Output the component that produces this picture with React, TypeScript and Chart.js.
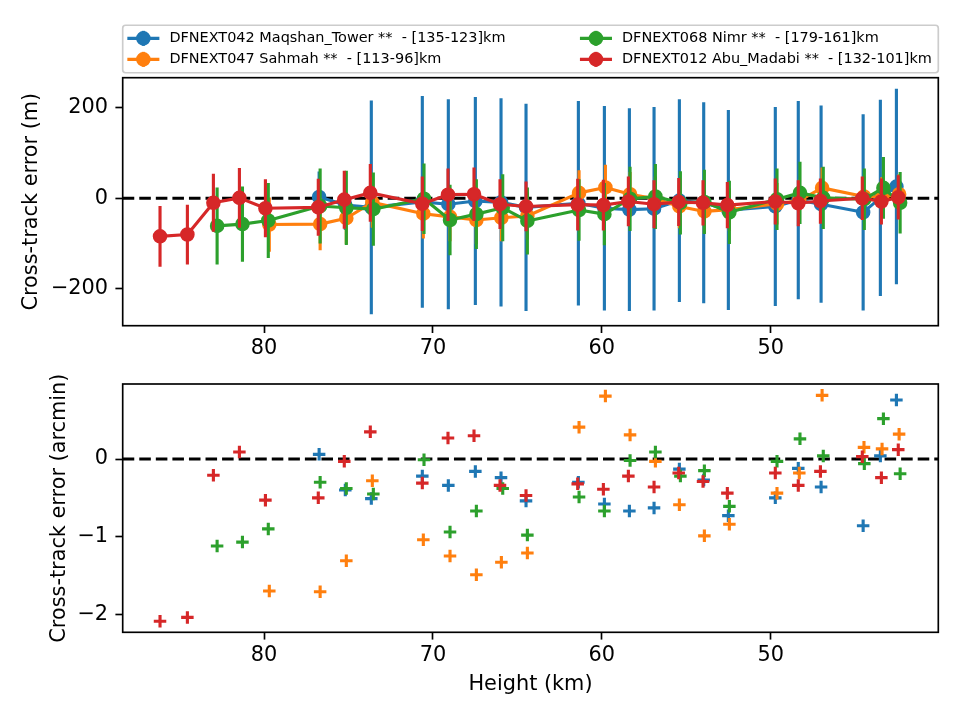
import React, { useEffect, useRef } from 'react';
import { Chart, registerables } from 'chart.js';

Chart.register(...registerables);

// 150 dpi figure: points -> pixels
const PT = 150 / 72;
const FONT_FAMILY = "'DejaVu Sans', 'Liberation Sans', sans-serif";
const FONT_SIZE = 10 * PT;
const LEGEND_FONT_SIZE = 6.94 * PT;

const COLORS = ['#1f77b4', '#ff7f0e', '#2ca02c', '#d62728'];
const STATION_LABELS = [
  'DFNEXT042 Maqshan_Tower **  - [135-123]km',
  'DFNEXT047 Sahmah **  - [113-96]km',
  'DFNEXT068 Nimr **  - [179-161]km',
  'DFNEXT012 Abu_Madabi **  - [132-101]km',
];

// DFNEXT042 Maqshan_Tower
const maqshanHeight = [76.74, 75.19, 73.65, 70.63, 69.09, 67.49, 65.97, 64.49, 61.39, 59.85, 58.37, 56.91, 55.41, 53.97, 52.51, 49.73, 48.37, 47.02, 44.53, 43.51, 42.56];
const maqshanErrM = [3, -15, -20, -8, -13, -6, -9, -20, -11, -22, -25, -23, -5, -10, -26, -18, -4, -13, -31, 1, 26];
const maqshanSigmaM = [56, 55, 236, 234, 232, 230, 230, 229, 226, 226, 224, 225, 224, 222, 221, 220, 219, 218, 217, 217, 216];
const maqshanErrArcmin = [0.06, -0.4, -0.51, -0.22, -0.34, -0.16, -0.24, -0.54, -0.3, -0.58, -0.67, -0.63, -0.13, -0.27, -0.73, -0.5, -0.12, -0.36, -0.86, 0.04, 0.76];

// DFNEXT047 Sahmah
const sahmahHeight = [79.69, 76.68, 75.13, 73.59, 70.57, 68.99, 67.43, 65.95, 64.41, 61.35, 59.79, 58.33, 56.83, 55.41, 53.93, 52.45, 49.63, 48.31, 46.96, 44.48, 43.41, 42.4];
const sahmahErrM = [-58, -57, -44, -9, -34, -41, -48, -43, -39, 12, 24, 9, -1, -18, -29, -25, -12, -5, 23, 4, 3, 9];
const sahmahSigmaM = [60, 58, 57, 56, 55, 54, 53, 52, 52, 50, 50, 49, 49, 48, 48, 47, 46, 46, 45, 44, 44, 44];
const sahmahErrArcmin = [-1.7, -1.71, -1.31, -0.28, -1.04, -1.25, -1.49, -1.33, -1.21, 0.41, 0.81, 0.31, -0.03, -0.59, -0.99, -0.84, -0.44, -0.18, 0.82, 0.15, 0.13, 0.32];

// DFNEXT068 Nimr
const nimrHeight = [82.78, 81.28, 79.75, 76.68, 75.13, 73.53, 70.53, 68.99, 67.43, 65.87, 64.41, 61.35, 59.85, 58.33, 56.83, 55.35, 53.93, 52.45, 49.63, 48.27, 46.89, 44.46, 43.33, 42.34];
const nimrErrM = [-61, -57, -49, -17, -21, -24, -1, -48, -35, -21, -50, -26, -35, -1, 4, -10, -8, -31, -2, 12, 1, -2, 23, -10];
const nimrSigmaM = [85, 83, 83, 83, 82, 81, 78, 78, 77, 74, 74, 68, 69, 71, 72, 70, 71, 70, 68, 69, 69, 68, 68, 68];
const nimrErrArcmin = [-1.12, -1.07, -0.9, -0.3, -0.38, -0.45, -0.01, -0.94, -0.67, -0.38, -0.98, -0.49, -0.67, -0.02, 0.09, -0.22, -0.15, -0.61, -0.03, 0.26, 0.04, -0.06, 0.52, -0.19];

// DFNEXT012 Abu_Madabi
const abuMadabiHeight = [86.16, 84.54, 83.0, 81.46, 79.92, 76.79, 75.25, 73.71, 70.63, 69.11, 67.57, 66.03, 64.49, 61.43, 59.91, 58.43, 56.91, 55.45, 54.01, 52.57, 49.73, 48.37, 47.06, 44.58, 43.45, 42.45];
const abuMadabiErrM = [-84, -80, -10, 1, -22, -20, -3, 12, -12, 8, 9, -13, -18, -14, -15, -7, -13, -8, -10, -15, -7, -11, -6, 0, -7, 2];
const abuMadabiSigmaM = [67, 66, 64, 66, 64, 63, 64, 64, 60, 58, 59, 55, 55, 57, 56, 55, 53, 53, 50, 51, 51, 51, 50, 48, 51, 49];
const abuMadabiErrArcmin = [-2.09, -2.04, -0.21, 0.09, -0.53, -0.5, -0.03, 0.35, -0.31, 0.27, 0.3, -0.34, -0.47, -0.32, -0.39, -0.22, -0.36, -0.18, -0.29, -0.44, -0.18, -0.34, -0.16, 0.03, -0.24, 0.12];

// Axis limits and ticks
const HEIGHT_MIN = 40.08;
const HEIGHT_MAX = 88.37;
const HEIGHT_TICKS = [80, 70, 60, 50];
const METRE_MIN = -281.5;
const METRE_MAX = 266.5;
const METRE_TICKS = [-200, 0, 200];
const ARCMIN_MIN = -2.232;
const ARCMIN_MAX = 0.966;
const ARCMIN_TICKS = [-2, -1, 0];

const SERIES = [
  { label: STATION_LABELS[0], color: COLORS[0], height: maqshanHeight, metres: maqshanErrM, sigma: maqshanSigmaM, arcmin: maqshanErrArcmin },
  { label: STATION_LABELS[1], color: COLORS[1], height: sahmahHeight, metres: sahmahErrM, sigma: sahmahSigmaM, arcmin: sahmahErrArcmin },
  { label: STATION_LABELS[2], color: COLORS[2], height: nimrHeight, metres: nimrErrM, sigma: nimrSigmaM, arcmin: nimrErrArcmin },
  { label: STATION_LABELS[3], color: COLORS[3], height: abuMadabiHeight, metres: abuMadabiErrM, sigma: abuMadabiSigmaM, arcmin: abuMadabiErrArcmin },
];

// Layout of the two panels (pixels in the 960x720 page)
const CANVAS_W = 960;
const CANVAS_H = 360;
const AREA_LEFT = 122.7;
const AREA_RIGHT = 938.3;
const TOP_AREA_TOP = 77.7;
const TOP_AREA_BOTTOM = 325.7;
const BOTTOM_AREA_TOP = 384 - CANVAS_H;
const BOTTOM_AREA_BOTTOM = 632.3 - CANVAS_H;

const fmtTick = (v: number) => (v < 0 ? '\u2212' + Math.abs(v) : String(v));
const setTicks = (values: number[]) => (scale: any) => {
  scale.ticks = values.map((value) => ({ value }));
};

const font = (size: number) => ({ family: FONT_FAMILY, size, weight: 'normal' as const, lineHeight: 1.2 });

const tickGrid = {
  display: true,
  drawOnChartArea: false,
  drawTicks: true,
  tickLength: 3.5 * PT,
  tickWidth: 0.8 * PT,
  tickColor: '#000',
};

function heightAxis(areaBottom: number, withTitle: boolean) {
  return {
    type: 'linear' as const,
    min: HEIGHT_MIN,
    max: HEIGHT_MAX,
    reverse: true,
    afterBuildTicks: setTicks(HEIGHT_TICKS),
    afterFit: (scale: any) => {
      scale.height = CANVAS_H - areaBottom;
    },
    grid: tickGrid,
    border: { display: false },
    ticks: { color: '#000', font: font(FONT_SIZE), padding: 3.4, maxRotation: 0, autoSkip: false, callback: (v: any) => fmtTick(Number(v)) },
    title: {
      display: withTitle,
      text: 'Height (km)',
      color: '#000',
      font: font(FONT_SIZE),
      padding: { top: 0, bottom: 22.5 },
    },
  };
}

function errorAxis(min: number, max: number, ticks: number[], title: string, titleOffset: number) {
  return {
    type: 'linear' as const,
    min,
    max,
    afterBuildTicks: setTicks(ticks),
    afterFit: (scale: any) => {
      scale.width = AREA_LEFT;
    },
    grid: tickGrid,
    border: { display: false },
    ticks: { color: '#000', font: font(FONT_SIZE), padding: 7.3, autoSkip: false, callback: (v: any) => fmtTick(Number(v)) },
    title: {
      display: true,
      text: title,
      color: '#000',
      font: font(FONT_SIZE),
      padding: { top: titleOffset, bottom: 0 },
    },
  };
}

// Dashed zero reference line, under the data
const zeroLinePlugin = {
  id: 'zeroLine',
  beforeDatasetsDraw(chart: any) {
    const { ctx, chartArea, scales } = chart;
    const y = scales.y.getPixelForValue(0);
    const lw = 1.5 * PT;
    ctx.save();
    ctx.beginPath();
    ctx.rect(chartArea.left, chartArea.top, chartArea.right - chartArea.left, chartArea.bottom - chartArea.top);
    ctx.clip();
    ctx.strokeStyle = '#000';
    ctx.lineWidth = lw;
    ctx.setLineDash([3.7 * lw, 1.6 * lw]);
    ctx.beginPath();
    ctx.moveTo(chartArea.left, y);
    ctx.lineTo(chartArea.right, y);
    ctx.stroke();
    ctx.restore();
  },
};

// Vertical 1-sigma bars, drawn just before each dataset's line and markers
const errorBarPlugin = {
  id: 'errorBars',
  beforeDatasetDraw(chart: any, args: any) {
    const ds = chart.data.datasets[args.index];
    if (!ds.sigma) return;
    const { ctx, chartArea, scales } = chart;
    ctx.save();
    ctx.beginPath();
    ctx.rect(chartArea.left, chartArea.top, chartArea.right - chartArea.left, chartArea.bottom - chartArea.top);
    ctx.clip();
    ctx.strokeStyle = ds.borderColor;
    ctx.lineWidth = 1.5 * PT;
    ctx.lineCap = 'butt';
    ds.data.forEach((p: any, i: number) => {
      const s = ds.sigma[i];
      const x = scales.x.getPixelForValue(p.x);
      ctx.beginPath();
      ctx.moveTo(x, scales.y.getPixelForValue(p.y - s));
      ctx.lineTo(x, scales.y.getPixelForValue(p.y + s));
      ctx.stroke();
    });
    ctx.restore();
  },
};

// Axes frame on all four sides
const framePlugin = {
  id: 'axesFrame',
  afterDatasetsDraw(chart: any) {
    const { ctx, chartArea } = chart;
    ctx.save();
    ctx.strokeStyle = '#000';
    ctx.lineWidth = 0.8 * PT;
    ctx.strokeRect(chartArea.left, chartArea.top, chartArea.right - chartArea.left, chartArea.bottom - chartArea.top);
    ctx.restore();
  },
};

// Two-column legend box above the upper panel
const legendPlugin = {
  id: 'stationLegend',
  afterDraw(chart: any) {
    const { ctx, chartArea } = chart;
    const left = chartArea.left;
    const right = chartArea.right;
    const bottom = chartArea.top - 0.02 * (chartArea.bottom - chartArea.top);
    const top = bottom - 47.5;
    const r = 0.2 * LEGEND_FONT_SIZE;
    ctx.save();
    ctx.beginPath();
    ctx.moveTo(left + r, top);
    ctx.lineTo(right - r, top);
    ctx.arcTo(right, top, right, top + r, r);
    ctx.lineTo(right, bottom - r);
    ctx.arcTo(right, bottom, right - r, bottom, r);
    ctx.lineTo(left + r, bottom);
    ctx.arcTo(left, bottom, left, bottom - r, r);
    ctx.lineTo(left, top + r);
    ctx.arcTo(left, top, left + r, top, r);
    ctx.closePath();
    ctx.fillStyle = 'rgba(255,255,255,0.8)';
    ctx.fill();
    ctx.strokeStyle = '#cccccc';
    ctx.lineWidth = 0.8 * PT;
    ctx.stroke();

    const handleLen = 2 * LEGEND_FONT_SIZE;
    const colX = [left + 6.2, left + 458.8];
    const rowY = [bottom - 34.4, bottom - 13.4];
    const slots = [
      [0, 0],
      [0, 1],
      [1, 0],
      [1, 1],
    ];
    SERIES.forEach((s, i) => {
      const [c, rr] = slots[i];
      const x0 = colX[c];
      const y = rowY[rr];
      const xm = x0 + handleLen / 2;
      ctx.strokeStyle = s.color;
      ctx.fillStyle = s.color;
      ctx.lineWidth = 1.5 * PT;
      ctx.lineCap = 'square';
      ctx.beginPath();
      ctx.moveTo(x0, y);
      ctx.lineTo(x0 + handleLen, y);
      ctx.stroke();
      ctx.lineCap = 'butt';
      ctx.beginPath();
      ctx.moveTo(xm, y - 7.5);
      ctx.lineTo(xm, y + 7.5);
      ctx.stroke();
      ctx.lineWidth = 1 * PT;
      ctx.beginPath();
      ctx.arc(xm, y, 3 * PT, 0, Math.PI * 2);
      ctx.fill();
      ctx.stroke();
      ctx.fillStyle = '#000';
      ctx.font = `${LEGEND_FONT_SIZE}px ${FONT_FAMILY}`;
      ctx.textAlign = 'left';
      ctx.textBaseline = 'middle';
      ctx.fillText(s.label, x0 + handleLen + 0.8 * LEGEND_FONT_SIZE, y);
    });
    ctx.restore();
  },
};

function topConfig(): any {
  return {
    type: 'line',
    data: {
      datasets: SERIES.map((s, i) => ({
        label: s.label,
        data: s.height.map((h, k) => ({ x: h, y: s.metres[k] })),
        sigma: s.sigma,
        order: SERIES.length - i,
        borderColor: s.color,
        backgroundColor: s.color,
        borderWidth: 1.5 * PT,
        borderJoinStyle: 'round',
        pointRadius: 3 * PT,
        pointBorderWidth: 1 * PT,
        pointBackgroundColor: s.color,
        pointBorderColor: s.color,
        pointHoverRadius: 3 * PT,
        tension: 0,
        fill: false,
      })),
    },
    options: {
      responsive: false,
      animation: false,
      devicePixelRatio: 1,
      events: [],
      layout: { autoPadding: false, padding: { left: 0, top: TOP_AREA_TOP, right: CANVAS_W - AREA_RIGHT, bottom: 0 } },
      plugins: { legend: { display: false }, tooltip: { enabled: false } },
      scales: {
        x: heightAxis(TOP_AREA_BOTTOM, false),
        y: errorAxis(METRE_MIN, METRE_MAX, METRE_TICKS, 'Cross-track error (m)', 18.9),
      },
    },
    plugins: [zeroLinePlugin, errorBarPlugin, framePlugin, legendPlugin],
  };
}

function bottomConfig(): any {
  return {
    type: 'scatter',
    data: {
      datasets: SERIES.map((s, i) => ({
        label: s.label,
        data: s.height.map((h, k) => ({ x: h, y: s.arcmin[k] })),
        order: SERIES.length - i,
        showLine: false,
        pointStyle: 'cross',
        pointRadius: 3 * PT,
        pointHoverRadius: 3 * PT,
        pointBorderWidth: 1.5 * PT,
        borderColor: s.color,
        backgroundColor: s.color,
        pointBorderColor: s.color,
        pointBackgroundColor: s.color,
      })),
    },
    options: {
      responsive: false,
      animation: false,
      devicePixelRatio: 1,
      events: [],
      layout: { autoPadding: false, padding: { left: 0, top: BOTTOM_AREA_TOP, right: CANVAS_W - AREA_RIGHT, bottom: 0 } },
      plugins: { legend: { display: false }, tooltip: { enabled: false } },
      scales: {
        x: heightAxis(BOTTOM_AREA_BOTTOM, true),
        y: errorAxis(ARCMIN_MIN, ARCMIN_MAX, ARCMIN_TICKS, 'Cross-track error (arcmin)', 46.9),
      },
    },
    plugins: [zeroLinePlugin, framePlugin],
  };
}

export default function App() {
  const topRef = useRef<HTMLCanvasElement>(null);
  const bottomRef = useRef<HTMLCanvasElement>(null);

  useEffect(() => {
    const top = new Chart(topRef.current as HTMLCanvasElement, topConfig());
    const bottom = new Chart(bottomRef.current as HTMLCanvasElement, bottomConfig());
    return () => {
      top.destroy();
      bottom.destroy();
    };
  }, []);

  const canvasStyle = (y: number): React.CSSProperties => ({
    position: 'absolute',
    left: 0,
    top: y,
    width: CANVAS_W,
    height: CANVAS_H,
    display: 'block',
  });

  return (
    <div style={{ position: 'fixed', left: 0, top: 0, width: 960, height: 720, background: '#ffffff' }}>
      <canvas ref={topRef} width={CANVAS_W} height={CANVAS_H} style={canvasStyle(0)} />
      <canvas ref={bottomRef} width={CANVAS_W} height={CANVAS_H} style={canvasStyle(CANVAS_H)} />
    </div>
  );
}
